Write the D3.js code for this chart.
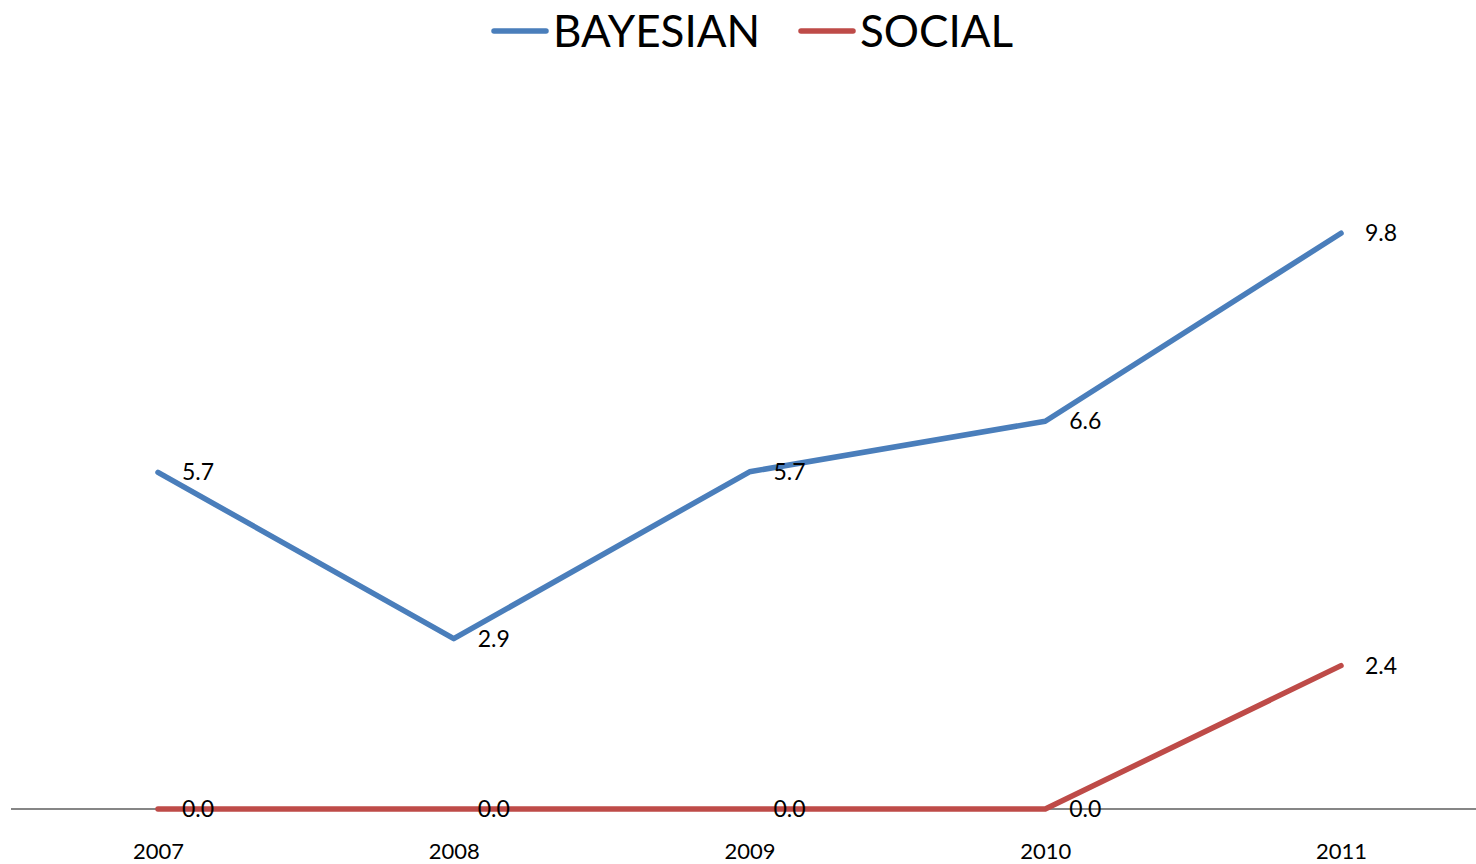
<!doctype html>
<html>

<head>
    <meta charset="utf-8">
    <title>Bayesian vs Social</title>
    <script type="text/javascript" src="https://cdn.jsdelivr.net/npm/d3@7/dist/d3.min.js"></script>
    <style type="text/css">
        html,
        body {
            margin: 0;
            padding: 0;
            background: #fff;
        }

        #chart svg {
            display: block;
            font-family: Lato, "Open Sans", sans-serif;
        }
    </style>
</head>

<body>
    <div id="chart"></div>

    <script type="text/javascript">
        var years = ["2007", "2008", "2009", "2010", "2011"]
        var bayesian = [5.73, 2.9, 5.74, 6.6, 9.8]
        var social = [0.0, 0.0, 0.0, 0.0, 2.44]
        var seriesNames = ["BAYESIAN", "SOCIAL"]
        var seriesColors = ["#4a7ebb", "#be4b48"]

        var W = 1476, H = 864

        var svg = d3.select("#chart").append("svg")
            .attr("width", W)
            .attr("height", H)

        var x = d3.scalePoint()
            .domain(years)
            .range([158, 1341])

        var y = d3.scaleLinear()
            .domain([0, 12])
            .range([809, 104])

        // category axis
        var xAxis = d3.axisBottom(x).tickSize(0).tickPadding(34)
        var gx = svg.append("g")
            .attr("transform", "translate(0," + y(0) + ")")
            .call(xAxis)
        gx.select(".domain").remove()
        gx.selectAll("text")
            .attr("font-size", 22)
            .attr("font-family", "Lato, sans-serif")
            .attr("fill", "#000")

        svg.append("line")
            .attr("x1", 11).attr("x2", W)
            .attr("y1", y(0)).attr("y2", y(0))
            .attr("stroke", "#868686")
            .attr("stroke-width", 2)

        var line = d3.line()
            .x(function (d, i) { return x(years[i]) })
            .y(function (d) { return y(d) })

        var series = [bayesian, social]

        series.forEach(function (vals, s) {
            svg.append("path")
                .datum(vals)
                .attr("d", line)
                .attr("fill", "none")
                .attr("stroke", seriesColors[s])
                .attr("stroke-width", 5.5)
                .attr("stroke-linecap", "round")
                .attr("stroke-linejoin", "round")
        })

        series.forEach(function (vals, s) {
            svg.append("g").selectAll("text")
                .data(vals)
                .enter().append("text")
                .attr("x", function (d, i) { return x(years[i]) + 24 })
                .attr("y", function (d) { return y(d) })
                .attr("dy", "0.35em")
                .attr("font-size", 23)
                .attr("fill", "#000")
                .text(function (d) { return d3.format(".1f")(d) })
        })

        // legend
        var legendX = [494, 801]
        seriesNames.forEach(function (name, s) {
            var g = svg.append("g").attr("transform", "translate(" + legendX[s] + ",31)")
            g.append("line")
                .attr("x1", 0).attr("x2", 52)
                .attr("stroke", seriesColors[s])
                .attr("stroke-width", 5.5)
                .attr("stroke-linecap", "round")
            g.append("text")
                .attr("x", 59)
                .attr("dy", "0.36em")
                .attr("font-size", 44)
                .attr("fill", "#000")
                .text(name)
        })
    </script>
</body>

</html>
